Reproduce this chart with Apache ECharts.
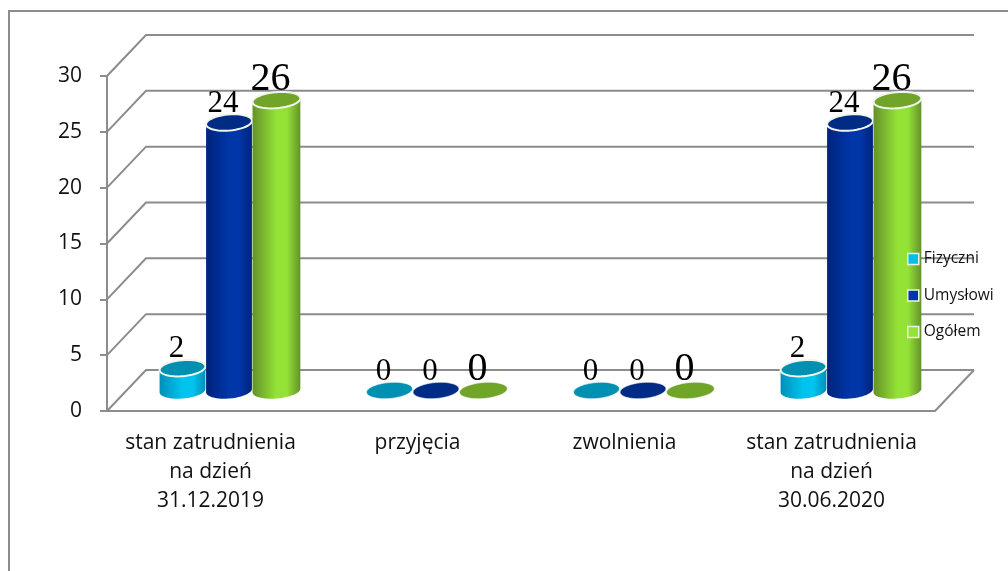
<!DOCTYPE html>
<html>
<head>
<meta charset="utf-8">
<style>
  html, body { margin: 0; padding: 0; background: #fff; }
  #chart { width: 1008px; height: 571px; }
</style>
<script src="https://cdn.jsdelivr.net/npm/echarts@6/dist/echarts.min.js"></script>
</head>
<body>
<div id="chart"></div>
<script>
const categories = ['stan zatrudnienia\nna dzień\n31.12.2019', 'przyjęcia', 'zwolnienia', 'stan zatrudnienia\nna dzień\n30.06.2020'];
const fizyczni = [2, 0, 0, 2];
const umyslowi = [24, 0, 0, 24];
const ogolem = [26, 0, 0, 26];
const yTicks = [0, 5, 10, 15, 20, 25, 30];

const DEPTH_X = 39;
const DEPTH_Y = 41;
const WALL = '#8c8c8c';

const seriesStyles = [
  { name: 'Fizyczni', values: fizyczni, slot: -1, width: 46, fontSize: 31, top: '#0090b2', mid: '#00c4ee', edge: '#0090b8', legend: '#00bfe8' },
  { name: 'Umysłowi', values: umyslowi, slot: 0, width: 46, fontSize: 31, top: '#002c86', mid: '#0036a8', edge: '#00237c', legend: '#0036a8' },
  { name: 'Ogółem', values: ogolem, slot: 1.02, width: 48, fontSize: 40, top: '#70a52a', mid: '#94e236', edge: '#64922a', legend: '#94e236' }
];

// tilted ellipse outline, from angle a0 to a1
function ellipsePoints(cx, cy, rx, ry, a0, a1) {
  const tilt = -5 * Math.PI / 180;
  const pts = [];
  for (let i = 0; i <= 48; i++) {
    const a = a0 + (a1 - a0) * i / 48;
    const ex = rx * Math.cos(a);
    const ey = ry * Math.sin(a);
    pts.push([cx + ex * Math.cos(tilt) - ey * Math.sin(tilt), cy + ex * Math.sin(tilt) + ey * Math.cos(tilt)]);
  }
  return pts;
}

function cylinderItem(style) {
  return function (params, api) {
    const value = api.value(1);
    const top = api.coord([api.value(0), value]);
    const base = api.coord([api.value(0), 0]);
    const cx = top[0] + DEPTH_X / 2 + style.slot * 46.5 - 1;
    const topY = top[1] - DEPTH_Y / 2;
    const baseY = base[1] - DEPTH_Y / 2;
    const rx = style.width / 2;
    const ry = 8;
    const children = [];

    if (value > 0) {
      const lower = ellipsePoints(cx, baseY, rx, ry, 0, Math.PI);
      const upper = ellipsePoints(cx, topY, rx, ry, Math.PI, 0);
      children.push({
        type: 'polygon',
        shape: { points: lower.concat(upper) },
        style: {
          fill: new echarts.graphic.LinearGradient(0, 0, 1, 0, [
            { offset: 0, color: style.edge },
            { offset: 0.5, color: style.mid },
            { offset: 0.72, color: style.mid },
            { offset: 1, color: style.edge }
          ])
        }
      });
    }
    children.push({
      type: 'polygon',
      shape: { points: ellipsePoints(cx, topY, rx, ry, 0, Math.PI * 2) },
      style: { fill: style.top, stroke: value > 0 ? '#f2f5ee' : 'rgba(255,255,255,0.6)', lineWidth: value > 0 ? 2 : 1 }
    });
    children.push({
      type: 'text',
      style: {
        x: cx - 6,
        y: topY - (style.fontSize > 35 ? 21 : 19),
        text: String(value),
        fill: '#000',
        font: style.fontSize + 'px "Liberation Serif"',
        align: 'center',
        verticalAlign: 'middle'
      }
    });
    return { type: 'group', children };
  };
}

function wallItem(params, api) {
  const p = api.coord([0, api.value(1)]);
  const left = params.coordSys.x;
  const right = left + params.coordSys.width;
  const lineStyle = { stroke: WALL, lineWidth: 2, fill: 'none' };
  const children = [{
    type: 'polyline',
    shape: { points: [[left, p[1]], [left + DEPTH_X, p[1] - DEPTH_Y], [right + DEPTH_X, p[1] - DEPTH_Y]] },
    style: lineStyle
  }];
  if (api.value(1) === 0) {
    children.push({
      type: 'line',
      shape: { x1: right, y1: p[1], x2: right + DEPTH_X, y2: p[1] - DEPTH_Y },
      style: lineStyle
    });
  }
  return { type: 'group', children };
}

const chart = echarts.init(document.getElementById('chart'), null, { renderer: 'canvas' });
chart.setOption({
  animation: false,
  backgroundColor: '#fff',
  graphic: [{
    type: 'polyline',
    shape: { points: [[9, 571], [9, 11], [1008, 11]] },
    style: { fill: 'none', stroke: '#8c8c8c', lineWidth: 2 },
    silent: true
  }],
  grid: { left: 107, top: 76, width: 828, height: 335 },
  xAxis: {
    type: 'category',
    data: categories,
    axisLine: { lineStyle: { color: WALL, width: 2 } },
    axisTick: { length: 6, lineStyle: { color: WALL, width: 2 } },
    axisLabel: { color: '#111', fontFamily: 'Open Sans', fontSize: 21, lineHeight: 29, margin: 18, interval: 0 }
  },
  yAxis: {
    type: 'value',
    min: 0,
    max: 30,
    interval: 5,
    splitLine: { show: false },
    axisLine: { show: true, lineStyle: { color: WALL, width: 2 } },
    axisTick: { show: true, length: 7, lineStyle: { color: WALL, width: 2 } },
    axisLabel: { color: '#111', fontFamily: 'Open Sans', fontSize: 21, margin: 25 }
  },
  legend: {
    orient: 'vertical',
    left: 902,
    top: 246,
    itemWidth: 11,
    itemHeight: 11,
    itemGap: 20.5,
    textStyle: { color: '#111', fontFamily: 'Open Sans', fontSize: 15.5 },
    data: seriesStyles.map(s => ({
      name: s.name,
      icon: 'rect',
      itemStyle: { color: s.legend, borderColor: '#eef2ea', borderWidth: 1.5 }
    }))
  },
  series: [{
    type: 'custom',
    name: 'walls',
    z: 1,
    clip: false,
    silent: true,
    renderItem: wallItem,
    encode: { x: 0, y: 1 },
    data: yTicks.map(t => [0, t])
  }].concat(seriesStyles.map(s => ({
    type: 'custom',
    name: s.name,
    z: 3,
    clip: false,
    itemStyle: { color: s.legend },
    renderItem: cylinderItem(s),
    encode: { x: 0, y: 1 },
    data: s.values.map((v, i) => [i, v])
  })))
});
</script>
</body>
</html>
